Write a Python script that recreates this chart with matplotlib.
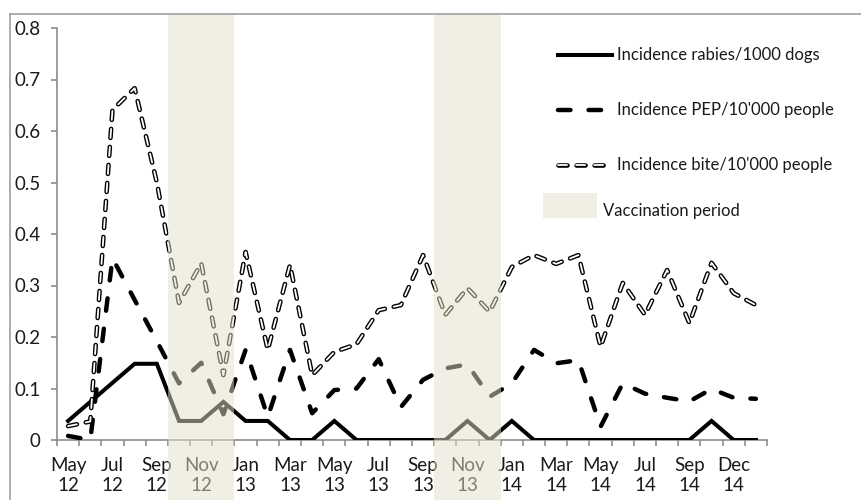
import numpy as np
import matplotlib
matplotlib.use("Agg")
import matplotlib.pyplot as plt
from matplotlib.patches import Rectangle
from matplotlib.lines import Line2D
import matplotlib.patheffects as pe
from matplotlib.transforms import blended_transform_factory

plt.rcParams['font.family'] = ['Lato', 'DejaVu Sans']
plt.rcParams['lines.scale_dashes'] = False

# ---------------- data ----------------
months = ["May\n12", "Jun\n12", "Jul\n12", "Aug\n12", "Sep\n12", "Oct\n12", "Nov\n12", "Dec\n12",
          "Jan\n13", "Feb\n13", "Mar\n13", "Apr\n13", "May\n13", "Jun\n13", "Jul\n13", "Aug\n13",
          "Sep\n13", "Oct\n13", "Nov\n13", "Dec\n13", "Jan\n14", "Feb\n14", "Mar\n14", "Apr\n14",
          "May\n14", "Jun\n14", "Jul\n14", "Aug\n14", "Sep\n14", "Oct\n14", "Dec\n14", "Jan\n15"]
rabies = [0.037, 0.074, 0.111, 0.148, 0.148, 0.037, 0.037, 0.074, 0.037, 0.037, 0.0, 0.0,
          0.037, 0.0, 0.0, 0.0, 0.0, 0.0, 0.037, 0.0, 0.037, 0.0, 0.0, 0.0,
          0.0, 0.0, 0.0, 0.0, 0.0, 0.037, 0.0, 0.0]
pep = [0.008, 0.0, 0.353, 0.272, 0.192, 0.110, 0.150, 0.050, 0.175, 0.045, 0.175, 0.052,
       0.097, 0.100, 0.157, 0.064, 0.117, 0.139, 0.147, 0.084, 0.110, 0.175, 0.149, 0.155,
       0.026, 0.110, 0.090, 0.082, 0.075, 0.099, 0.082, 0.080]
bite = [0.027, 0.036, 0.641, 0.683, 0.500, 0.266, 0.343, 0.126, 0.365, 0.175, 0.340, 0.126,
        0.171, 0.186, 0.252, 0.262, 0.359, 0.243, 0.295, 0.249, 0.336, 0.359, 0.342, 0.359,
        0.181, 0.305, 0.243, 0.330, 0.227, 0.344, 0.285, 0.262]
vacc_periods = [(5, 7), (17, 19)]   # first and last month index of each campaign
yticks = [0, 0.1, 0.2, 0.3, 0.4, 0.5, 0.6, 0.7, 0.8]
ytick_labels = ["0", "0.1", "0.2", "0.3", "0.4", "0.5", "0.6", "0.7", "0.8"]
legend_labels = ["Incidence rabies/1000 dogs", "Incidence PEP/10'000 people",
                 "Incidence bite/10'000 people", "Vaccination period"]

W, H = 862, 500
def fx(x): return x / W
def fy(y): return 1 - y / H

fig = plt.figure(figsize=(W / 100, H / 100), dpi=100)
ax = fig.add_axes([fx(57), fy(440), (767 - 57) / W, (440 - 28) / H])

x = np.arange(len(months))
GRAY = '#8C8C8C'
TXT = '#1a1a1a'

rab_style = dict(color='black', lw=2.9, solid_joinstyle='miter')
pep_style = dict(color='black', lw=3.2, dashes=(9, 13), dash_capstyle='round')
bite_style = dict(color='white', lw=1.3, dashes=(6.5, 6.5), dash_capstyle='round',
                  path_effects=[pe.Stroke(linewidth=3.3, foreground='black'), pe.Normal()])

ax.plot(x, rabies, **rab_style, zorder=3)
ax.plot(x, pep, **pep_style, zorder=4)
ax.plot(x, bite, **bite_style, zorder=5)

ax.set_xlim(-0.5, len(months) - 0.5)
ax.set_ylim(0, 0.8)

for s in ['top', 'right']:
    ax.spines[s].set_visible(False)
for s in ['left', 'bottom']:
    ax.spines[s].set_color(GRAY)
    ax.spines[s].set_linewidth(1.2)

ax.set_xticks(np.arange(-0.5, len(months), 1))
ax.set_xticklabels([])
ax.set_xticks(x[::2], minor=True)
ax.set_xticklabels(months[::2], minor=True)
ax.tick_params(axis='x', which='major', direction='out', length=4.5, width=1.2, color=GRAY)
ax.tick_params(axis='x', which='minor', length=0, pad=12.5, labelsize=13.5, labelcolor=TXT)
ax.set_yticks(yticks)
ax.set_yticklabels(ytick_labels)
ax.tick_params(axis='y', direction='out', length=4, width=1.2, color=GRAY, pad=8,
               labelsize=13.5, labelcolor=TXT)
for lab in ax.get_xticklabels(minor=True):
    lab.set_linespacing(1.2)

# outer chart border
fig.add_artist(Line2D([fx(10), fx(10)], [fy(14), 0], color='#A0A0A0', lw=1.2))
fig.add_artist(Line2D([fx(10), 1], [fy(14), fy(14)], color='#A0A0A0', lw=1.2))

# vaccination bands (semi-transparent overlay over the whole chart height)
BAND = '#E5E0C8'
trans = blended_transform_factory(ax.transData, fig.transFigure)
for a, b in vacc_periods:
    ax.add_patch(Rectangle((a - 0.5, 0), b - a + 1, fy(14), transform=trans,
                           facecolor=BAND, alpha=0.5, edgecolor='none',
                           clip_on=False, zorder=10))

# legend (manual)
fs_leg = 12
rows = [55, 110, 165]
styles = [rab_style, pep_style, bite_style]
for yy, st, lab in zip(rows, styles, legend_labels[:3]):
    fig.add_artist(Line2D([fx(558), fx(612)], [fy(yy), fy(yy)], **st))
    fig.text(fx(617), fy(yy), lab, fontsize=fs_leg, va='center', ha='left', color=TXT)
fig.add_artist(Rectangle((fx(543), fy(218)), (597 - 543) / W, (218 - 193) / H,
                         transform=fig.transFigure, facecolor=BAND, alpha=0.5,
                         edgecolor='none'))
fig.text(fx(603), fy(211), legend_labels[3], fontsize=fs_leg, va='center', ha='left',
         color=TXT)

fig.savefig('out.png', dpi=100)
